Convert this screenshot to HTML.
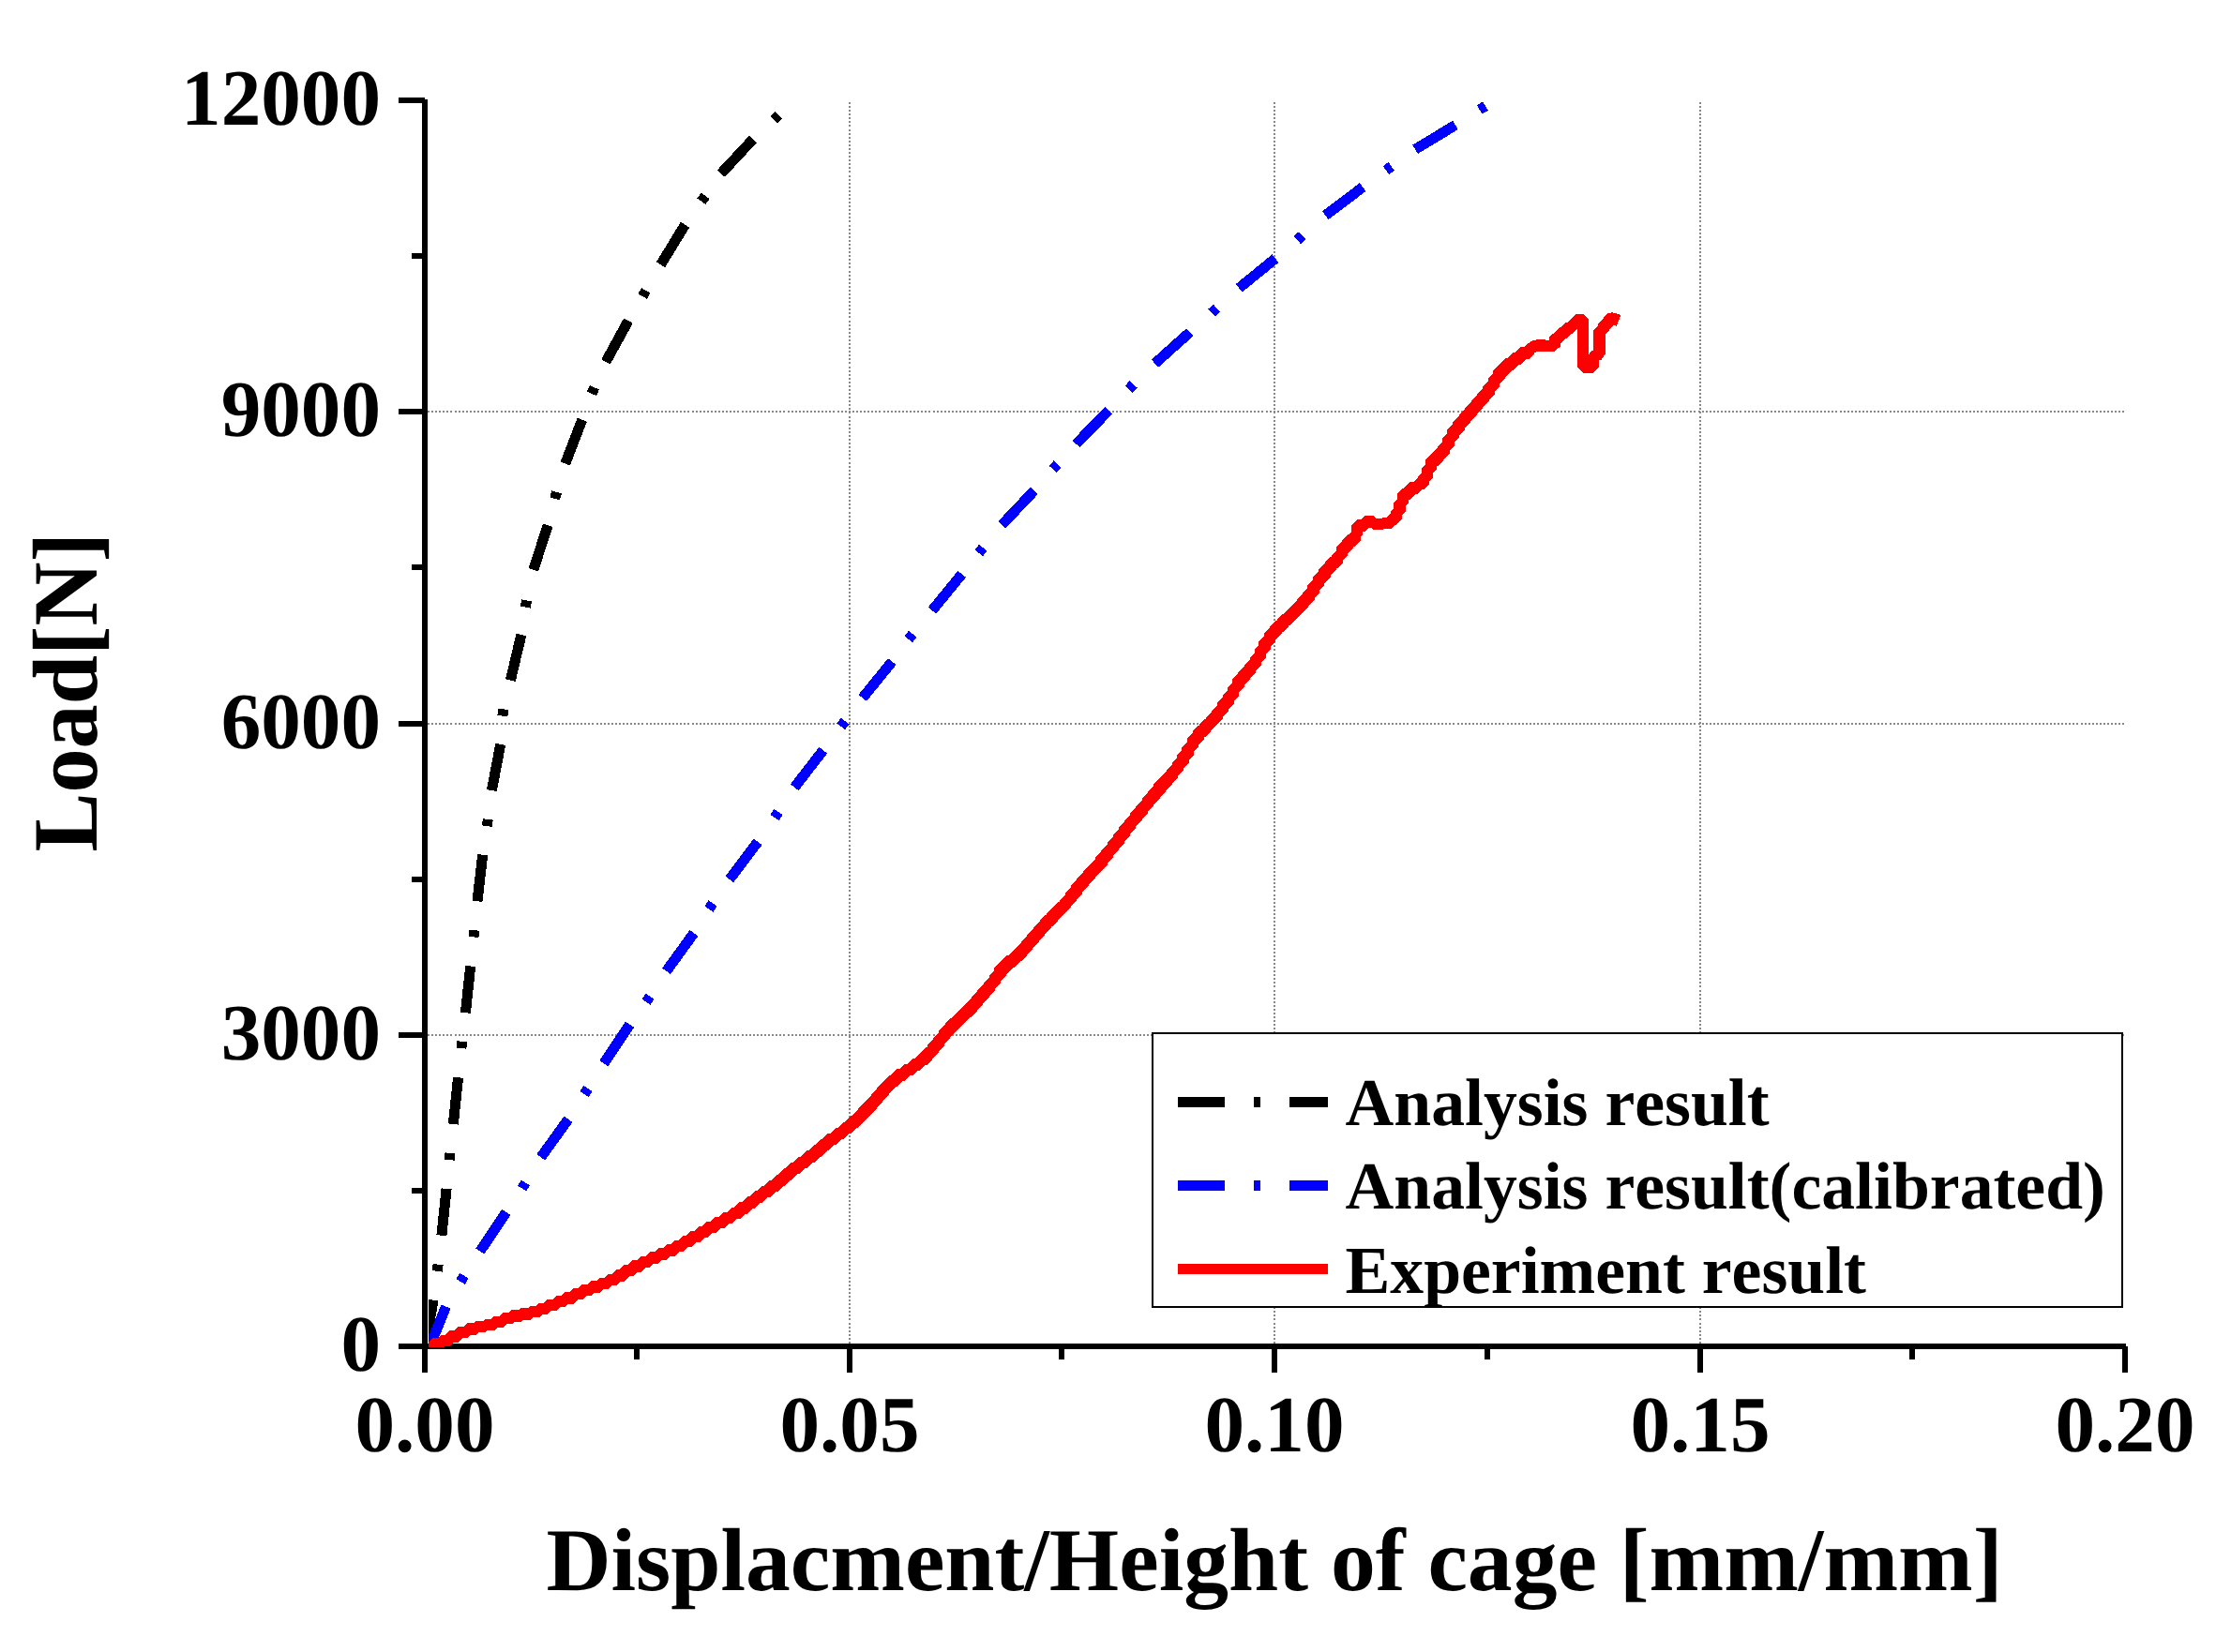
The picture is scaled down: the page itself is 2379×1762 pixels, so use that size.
<!DOCTYPE html>
<html><head><meta charset="utf-8"><title>Load vs Displacement</title>
<style>
html,body{margin:0;padding:0;background:#fff;}
svg{display:block;}
text{font-kerning:none;text-rendering:geometricPrecision;font-family:"Liberation Serif","Times New Roman",serif;font-weight:bold;fill:#000;}
</style></head><body>
<svg width="2379" height="1762" viewBox="0 0 2379 1762">
<rect width="2379" height="1762" fill="#fff"/>
<defs><clipPath id="plot"><rect x="457" y="100" width="1810" height="1337"/></clipPath></defs>

<g stroke="#888" stroke-width="2" stroke-dasharray="2 2.08" fill="none" shape-rendering="crispEdges">
<line x1="906" y1="109" x2="906" y2="1433"/>
<line x1="1359" y1="109" x2="1359" y2="1433"/>
<line x1="1813" y1="109" x2="1813" y2="1433"/>
<line x1="456" y1="439" x2="2265" y2="439"/>
<line x1="456" y1="772" x2="2265" y2="772"/>
<line x1="456" y1="1104" x2="2265" y2="1104"/>
</g>
<g fill="#000" shape-rendering="crispEdges">
<rect x="450" y="106" width="6" height="1358"/>
<rect x="425" y="1433" width="1842" height="6"/>
<rect x="425" y="104" width="28" height="6"/>
<rect x="439" y="270" width="14" height="6"/>
<rect x="425" y="436" width="28" height="6"/>
<rect x="439" y="602" width="14" height="6"/>
<rect x="425" y="769" width="28" height="6"/>
<rect x="439" y="935" width="14" height="6"/>
<rect x="425" y="1101" width="28" height="6"/>
<rect x="439" y="1267" width="14" height="6"/>
<rect x="676" y="1436" width="6" height="14"/>
<rect x="903" y="1436" width="6" height="28"/>
<rect x="1129" y="1436" width="6" height="14"/>
<rect x="1356" y="1436" width="6" height="28"/>
<rect x="1583" y="1436" width="6" height="14"/>
<rect x="1810" y="1436" width="6" height="28"/>
<rect x="2036" y="1436" width="6" height="14"/>
<rect x="2263" y="1436" width="6" height="28"/>
</g>
<g clip-path="url(#plot)" shape-rendering="crispEdges">
<g stroke="#000" stroke-width="11" fill="none"><line x1="453.5" y1="1436" x2="462.0" y2="1386.6"/><line x1="470.9" y1="1317.7" x2="476.1" y2="1267.9"/><line x1="483.3" y1="1199.0" x2="488.6" y2="1149.3"/><line x1="496.4" y1="1080.2" x2="501.7" y2="1030.5"/><line x1="509.0" y1="961.3" x2="514.7" y2="911.7"/><line x1="524.4" y1="843.1" x2="533.7" y2="793.9"/><line x1="544.4" y1="725.6" x2="555.9" y2="676.9"/><line x1="568.7" y1="607.8" x2="584.3" y2="560.2"/><line x1="602.8" y1="494.5" x2="620.7" y2="447.7"/><line x1="646.0" y1="385.9" x2="670.0" y2="342.1"/><line x1="704.5" y1="282.3" x2="730.5" y2="239.7"/><line x1="768.9" y1="185.1" x2="803.0" y2="148.4"/></g>
<g stroke="#000" stroke-width="11" fill="none"><line x1="466.1" y1="1355.8" x2="467.1" y2="1348.6"/><line x1="479.2" y1="1237.1" x2="480.0" y2="1229.9"/><line x1="492.7" y1="1110.8" x2="491.9" y2="1118.0"/><line x1="505.8" y1="992.2" x2="505.0" y2="999.4"/><line x1="519.3" y1="881.1" x2="520.3" y2="873.9"/><line x1="535.9" y1="763.6" x2="537.1" y2="756.4"/><line x1="560.3" y1="647.5" x2="561.7" y2="640.5"/><line x1="591.6" y1="531.9" x2="593.6" y2="524.9"/><line x1="631.0" y1="419.9" x2="633.8" y2="413.3"/><line x1="685.2" y1="316.1" x2="688.8" y2="309.9"/><line x1="752.1" y1="208.9" x2="747.9" y2="214.7"/><line x1="830.3" y1="122.6" x2="825.5" y2="127.8"/></g>
<g stroke="#00f" stroke-width="11" fill="none"><line x1="457.5" y1="1438" x2="475.5" y2="1393.6"/><line x1="511.9" y1="1334.5" x2="539.7" y2="1292.9"/><line x1="576.8" y1="1234.3" x2="606.0" y2="1193.7"/><line x1="643.9" y1="1134.1" x2="671.6" y2="1092.6"/><line x1="710.6" y1="1035.8" x2="739.9" y2="995.2"/><line x1="777.9" y1="937.8" x2="808.1" y2="897.9"/><line x1="847.2" y1="839.8" x2="877.8" y2="800.2"/><line x1="919.8" y1="744.4" x2="951.3" y2="705.6"/><line x1="994.0" y1="651.1" x2="1025.7" y2="612.3"/><line x1="1068.4" y1="559.7" x2="1102.8" y2="523.3"/><line x1="1147.5" y1="473.5" x2="1182.3" y2="437.7"/><line x1="1231.5" y1="387.7" x2="1268.8" y2="354.3"/><line x1="1321.2" y1="307.3" x2="1360.0" y2="275.7"/><line x1="1413.2" y1="229.7" x2="1453.2" y2="199.6"/><line x1="1509.1" y1="159.3" x2="1551.9" y2="133.4"/></g>
<g stroke="#00f" stroke-width="11" fill="none"><line x1="491.1" y1="1366.9" x2="494.9" y2="1360.7"/><line x1="556.6" y1="1267.5" x2="560.4" y2="1261.5"/><line x1="626.9" y1="1161.0" x2="623.1" y2="1167.0"/><line x1="689.0" y1="1068.7" x2="693.0" y2="1062.7"/><line x1="756.0" y1="969.5" x2="760.0" y2="963.5"/><line x1="830.0" y1="866.0" x2="826.0" y2="872.0"/><line x1="896.8" y1="774.9" x2="901.2" y2="769.1"/><line x1="968.8" y1="681.8" x2="973.2" y2="676.2"/><line x1="1043.7" y1="589.8" x2="1048.3" y2="584.2"/><line x1="1127.6" y1="495.1" x2="1122.8" y2="500.5"/><line x1="1203.8" y1="415.1" x2="1208.8" y2="409.9"/><line x1="1292.1" y1="333.6" x2="1297.5" y2="328.8"/><line x1="1383.3" y1="256.0" x2="1388.7" y2="251.2"/><line x1="1477.9" y1="181.6" x2="1483.7" y2="177.4"/><line x1="1583.9" y1="113.1" x2="1577.7" y2="116.9"/></g>
<polyline fill="none" stroke="#f00" stroke-width="12.5" stroke-linejoin="bevel" points="452.0,1437.0 461.3,1437.0 461.3,1433.4 470.6,1433.4 470.6,1429.8 479.6,1429.8 479.6,1425.3 488.5,1425.3 488.5,1420.9 497.9,1420.9 497.9,1417.5 507.7,1417.5 507.7,1415.2 517.4,1415.2 517.4,1412.9 526.9,1412.9 526.9,1409.8 536.2,1409.8 536.2,1406.2 545.8,1406.2 545.8,1403.4 555.6,1403.4 555.6,1401.5 565.3,1401.5 565.3,1399.1 574.7,1399.1 574.7,1395.8 583.9,1395.8 583.9,1391.8 593.2,1391.8 593.2,1388.1 602.5,1388.1 602.5,1384.4 611.6,1384.4 611.6,1380.1 620.7,1380.1 620.7,1376.1 630.1,1376.1 630.1,1372.6 639.4,1372.6 639.4,1369.0 648.6,1369.0 648.6,1365.0 657.4,1365.0 657.4,1360.3 666.0,1360.3 666.0,1355.2 674.7,1355.2 674.7,1350.3 683.7,1350.3 683.7,1345.9 692.7,1345.9 692.7,1341.7 701.9,1341.7 701.9,1337.6 711.0,1337.6 711.0,1333.5 720.0,1333.5 720.0,1329.1 728.6,1329.1 728.6,1324.1 737.2,1324.1 737.2,1319.0 745.9,1319.0 745.9,1313.9 754.4,1313.9 754.4,1308.8 763.1,1308.8 763.1,1303.9 771.9,1303.9 771.9,1299.1 780.5,1299.1 780.5,1294.1 788.8,1294.1 788.8,1288.4 796.9,1288.4 796.9,1282.5 805.0,1282.5 805.0,1276.6 813.1,1276.6 813.1,1270.9 821.2,1270.9 821.2,1265.0 829.1,1265.0 829.1,1258.8 836.7,1258.8 836.7,1252.4 844.3,1252.4 844.3,1245.9 852.3,1245.9 852.3,1239.8 860.2,1239.8 860.2,1233.7 868.1,1233.7 868.1,1227.6 875.7,1227.6 875.7,1221.1 883.4,1221.1 883.4,1214.8 891.5,1214.8 891.5,1208.8 899.5,1208.8 899.5,1202.8 907.3,1202.8 907.3,1196.5 914.6,1196.5 914.6,1189.8 921.6,1189.8 921.6,1182.6 928.4,1182.6 928.4,1175.3 935.1,1175.3 935.1,1167.8 941.5,1167.8 941.5,1160.2 948.4,1160.2 948.4,1152.9 956.1,1152.9 956.1,1146.6 964.4,1146.6 964.4,1141.1 972.8,1141.1 972.8,1135.6 980.9,1135.6 980.9,1129.7 988.1,1129.7 988.1,1122.8 994.8,1122.8 994.8,1115.4 1000.9,1115.4 1000.9,1107.5 1007.2,1107.5 1007.2,1099.7 1013.8,1099.7 1013.8,1092.3 1021.0,1092.3 1021.0,1085.3 1028.3,1085.3 1028.3,1078.5 1035.3,1078.5 1035.3,1071.3 1042.0,1071.3 1042.0,1063.9 1048.6,1063.9 1048.6,1056.4 1055.0,1056.4 1055.0,1048.7 1060.9,1048.7 1060.9,1040.6 1066.7,1040.6 1066.7,1032.5 1073.7,1032.5 1073.7,1025.4 1081.5,1025.4 1081.5,1019.2 1088.6,1019.2 1088.6,1012.2 1095.2,1012.2 1095.2,1004.6 1101.7,1004.6 1101.7,997.0 1108.2,997.0 1108.2,989.5 1114.9,989.5 1114.9,982.0 1121.8,982.0 1121.8,974.7 1129.0,974.7 1129.0,967.8 1135.8,967.8 1135.8,960.5 1142.1,960.5 1142.1,952.7 1148.1,952.7 1148.1,944.8 1154.5,944.8 1154.5,937.1 1161.3,937.1 1161.3,929.7 1168.0,929.7 1168.0,922.3 1174.5,922.3 1174.5,914.7 1180.7,914.7 1180.7,906.9 1186.8,906.9 1186.8,898.9 1192.9,898.9 1192.9,891.0 1199.0,891.0 1199.0,883.1 1205.2,883.1 1205.2,875.2 1211.5,875.2 1211.5,867.5 1217.7,867.5 1217.7,859.7 1224.0,859.7 1224.0,851.9 1230.3,851.9 1230.3,844.1 1236.7,844.1 1236.7,836.4 1243.5,836.4 1243.5,829.1 1250.2,829.1 1250.2,821.6 1256.1,821.6 1256.1,813.6 1261.6,813.6 1261.6,805.2 1266.7,805.2 1266.7,796.7 1271.9,796.7 1271.9,788.1 1277.9,788.1 1277.9,780.1 1284.8,780.1 1284.8,772.9 1291.8,772.9 1291.8,765.8 1298.2,765.8 1298.2,758.1 1304.1,758.1 1304.1,750.0 1309.8,750.0 1309.8,741.8 1315.1,741.8 1315.1,733.3 1320.4,733.3 1320.4,724.8 1326.5,724.8 1326.5,717.0 1333.1,717.0 1333.1,709.4 1339.0,709.4 1339.0,701.4 1343.9,701.4 1343.9,692.7 1348.6,692.7 1348.6,683.9 1354.0,683.9 1354.0,675.5 1360.6,675.5 1360.6,668.0 1367.9,668.0 1367.9,661.2 1375.2,661.2 1375.2,654.3 1382.3,654.3 1382.3,647.3 1389.2,647.3 1389.2,640.0 1395.4,640.0 1395.4,632.2 1400.7,632.2 1400.7,623.7 1406.2,623.7 1406.2,615.4 1412.4,615.4 1412.4,607.5 1419.1,607.5 1419.1,600.1 1425.8,600.1 1425.8,592.7 1430.9,592.7 1430.9,584.1 1437.1,584.1 1437.1,576.4 1444.5,576.4 1444.5,570.0 1447.0,570.0 1447.0,560.4 1455.5,560.4 1455.5,556.5 1465.1,556.5 1465.1,559.0 1474.5,559.0 1474.5,558.0 1483.4,558.0 1483.4,553.4 1488.9,553.4 1488.9,545.8 1492.4,545.8 1492.4,536.4 1496.1,536.4 1496.1,527.1 1503.0,527.1 1503.0,520.5 1511.8,520.5 1511.8,515.7 1518.2,515.7 1518.2,508.9 1521.9,508.9 1521.9,499.6 1526.2,499.6 1526.2,490.7 1533.2,490.7 1533.2,483.5 1539.6,483.5 1539.6,476.0 1544.4,476.0 1544.4,467.3 1549.4,467.3 1549.4,458.6 1555.5,458.6 1555.5,450.7 1561.8,450.7 1561.8,442.9 1568.3,442.9 1568.3,435.3 1575.0,435.3 1575.0,427.9 1581.7,427.9 1581.7,420.5 1587.5,420.5 1587.5,412.4 1592.9,412.4 1592.9,404.0 1598.4,404.0 1598.4,395.6 1605.4,395.6 1605.4,388.5 1613.4,388.5 1613.4,382.5 1621.5,382.5 1621.5,376.6 1630.2,376.6 1630.2,371.8 1634.0,371.8 1634.0,370.0 1640.5,368.3 1648.6,368.8 1657.5,368.8 1658.5,360.0 1664.0,360.0 1664.0,355.0 1670.0,355.0 1670.0,350.0 1676.0,350.0 1676.0,345.5 1681.0,345.5 1681.0,341.0 1688.0,341.0 1688.0,391.7 1698.8,391.7 1699.0,380.0 1705.3,378.0 1705.5,352.0 1710.0,352.0 1710.0,346.0 1715.0,346.0 1715.0,340.5 1720.0,339.5 1726.0,342.0"/>
</g>
<rect x="1229" y="1102" width="1034" height="292" fill="#fff" stroke="#000" stroke-width="2" shape-rendering="crispEdges"/>
<g shape-rendering="crispEdges">
<g fill="#000"><rect x="1256" y="1170" width="50" height="11"/><rect x="1337" y="1170" width="7" height="11"/><rect x="1375" y="1170" width="41" height="11"/></g>
<g fill="#00f"><rect x="1256" y="1259" width="50" height="11"/><rect x="1337" y="1259" width="7" height="11"/><rect x="1375" y="1259" width="41" height="11"/></g>
<rect x="1256" y="1348" width="160" height="11" fill="#f00"/>
</g>
<g font-size="71.7">
<text x="1434.5" y="1199.5">Analysis result</text>
<text x="1434.5" y="1289.3">Analysis result(calibrated)</text>
<text x="1434.5" y="1378.5">Experiment result</text>
</g>
<g font-size="85.2">
<text x="406" y="133.0" text-anchor="end">12000</text>
<text x="406" y="465.0" text-anchor="end">9000</text>
<text x="406" y="798.0" text-anchor="end">6000</text>
<text x="406" y="1130.0" text-anchor="end">3000</text>
<text x="406" y="1462.0" text-anchor="end">0</text>
<text x="453.0" y="1548" text-anchor="middle">0.00</text>
<text x="906.0" y="1548" text-anchor="middle">0.05</text>
<text x="1359.0" y="1548" text-anchor="middle">0.10</text>
<text x="1813.0" y="1548" text-anchor="middle">0.15</text>
<text x="2266.0" y="1548" text-anchor="middle">0.20</text>
</g>
<text x="582.5" y="1696" font-size="95.6">Displacment/Height of cage [mm/mm]</text>
<text transform="translate(103 908.4) rotate(-90) scale(0.992 1.035)" font-size="95">Load[N]</text>
</svg></body></html>
